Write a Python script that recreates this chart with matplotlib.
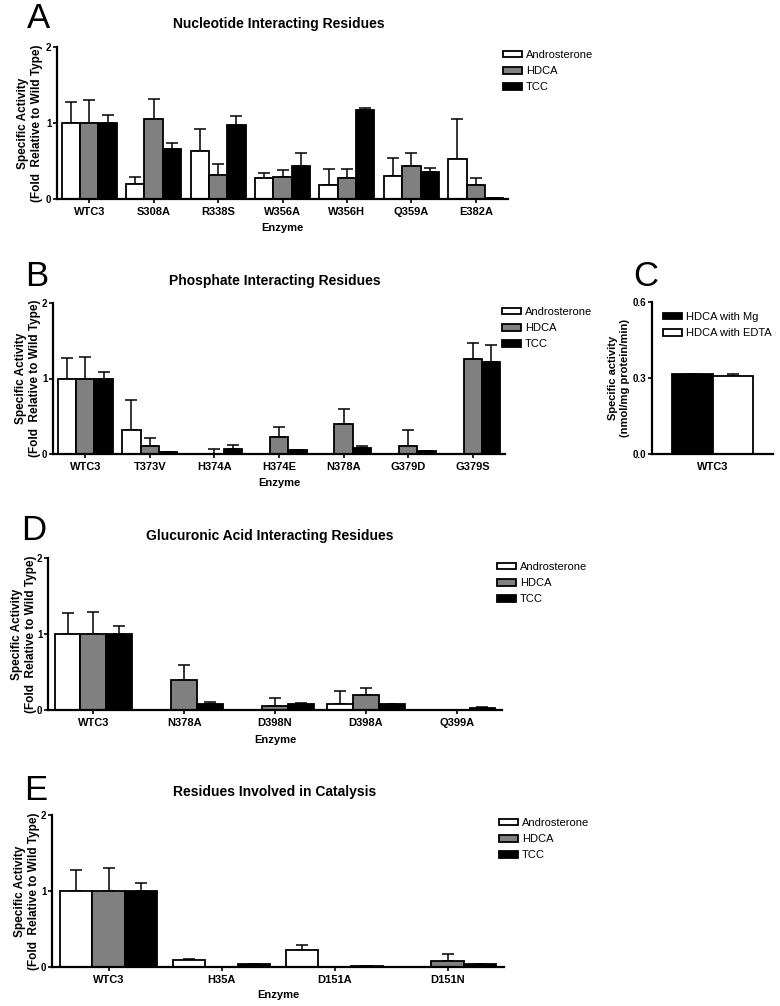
import matplotlib
matplotlib.use("Agg")
import matplotlib.pyplot as plt
import numpy as np
from matplotlib.patches import Patch

plt.rcParams['font.family'] = ['Liberation Sans', 'DejaVu Sans']

# ---------------- data ----------------
series_names = ['Androsterone', 'HDCA', 'TCC']

cats_A = ['WTC3', 'S308A', 'R338S', 'W356A', 'W356H', 'Q359A', 'E382A']
andro_A = [1.00, 0.20, 0.63, 0.28, 0.18, 0.30, 0.53]
andro_A_err = [0.27, 0.09, 0.29, 0.06, 0.21, 0.24, 0.52]
hdca_A = [1.00, 1.05, 0.32, 0.29, 0.27, 0.43, 0.18]
hdca_A_err = [0.30, 0.27, 0.14, 0.09, 0.12, 0.18, 0.10]
tcc_A = [1.00, 0.655, 0.98, 0.44, 1.17, 0.355, 0.01]
tcc_A_err = [0.10, 0.085, 0.11, 0.16, 0.03, 0.055, 0.0]

cats_B = ['WTC3', 'T373V', 'H374A', 'H374E', 'N378A', 'G379D', 'G379S']
andro_B = [1.00, 0.32, 0.0, 0.0, 0.0, 0.0, 0.0]
andro_B_err = [0.27, 0.40, 0.0, 0.0, 0.0, 0.0, 0.0]
hdca_B = [1.00, 0.11, 0.0, 0.22, 0.40, 0.10, 1.26]
hdca_B_err = [0.29, 0.10, 0.066, 0.14, 0.19, 0.22, 0.21]
tcc_B = [1.00, 0.02, 0.07, 0.05, 0.08, 0.035, 1.22]
tcc_B_err = [0.09, 0.0, 0.045, 0.0, 0.025, 0.0, 0.22]

cats_C = ['WTC3']
c_names = ['HDCA with Mg', 'HDCA with EDTA']
c_vals = [0.316, 0.308]
c_err = [0.0, 0.006]

cats_D = ['WTC3', 'N378A', 'D398N', 'D398A', 'Q399A']
andro_D = [1.00, 0.0, 0.0, 0.085, 0.0]
andro_D_err = [0.27, 0.0, 0.0, 0.165, 0.0]
hdca_D = [1.00, 0.40, 0.05, 0.20, 0.0]
hdca_D_err = [0.29, 0.19, 0.105, 0.09, 0.0]
tcc_D = [1.00, 0.08, 0.08, 0.075, 0.03]
tcc_D_err = [0.10, 0.025, 0.01, 0.0, 0.005]

cats_E = ['WTC3', 'H35A', 'D151A', 'D151N']
andro_E = [1.00, 0.095, 0.23, 0.0]
andro_E_err = [0.275, 0.012, 0.06, 0.0]
hdca_E = [1.00, 0.0, 0.0, 0.075]
hdca_E_err = [0.30, 0.0, 0.0, 0.095]
tcc_E = [1.00, 0.04, 0.01, 0.04]
tcc_E_err = [0.10, 0.005, 0.0, 0.005]

colors = ['white', '#808080', 'black']

W, H = 780, 1006
fig = plt.figure(figsize=(W / 100, H / 100), dpi=100)


def ax_px(l, r, t, b):
    return fig.add_axes([l / W, 1 - b / H, (r - l) / W, (b - t) / H])


def style_axes(ax, ylim, yticks, yticklabels):
    ax.set_ylim(*ylim)
    ax.set_yticks(yticks)
    ax.set_yticklabels(yticklabels, fontsize=7, fontweight='bold')
    for s in ['top', 'right']:
        ax.spines[s].set_visible(False)
    for s in ['left', 'bottom']:
        ax.spines[s].set_linewidth(1.6)
    ax.tick_params(axis='y', direction='out', length=3, width=1.2, pad=1)
    ax.tick_params(axis='x', direction='out', length=3, width=1.2, pad=3)


def legend_at(handles, labels, x, y):
    fig.legend(handles, labels, loc='upper left',
               bbox_to_anchor=(x / W, 1 - y / H),
               frameon=False, fontsize=8, handlelength=1.7, handleheight=0.55,
               handletextpad=0.35, labelspacing=0.55, borderpad=0, borderaxespad=0)


def grouped_panel(ax, cats, vals, errs, letter, title, leg_xy, letter_xy, title_xy,
                  ylabel_x, xlabel_y):
    n = len(cats)
    x = np.arange(n)
    bw = 0.285
    for i, (v, e) in enumerate(zip(vals, errs)):
        pos = x + (i - 1) * bw
        ax.errorbar(pos, v, yerr=[np.zeros(n), e], fmt='none', ecolor='black',
                    elinewidth=1.1, capsize=4, capthick=1.1, zorder=1)
        ax.bar(pos, v, width=bw, color=colors[i], edgecolor='black', linewidth=1.3,
               zorder=2, label=series_names[i])
    ax.set_xlim(-0.5, n - 0.5)
    ax.set_xticks(x)
    ax.set_xticklabels(cats, fontsize=8, fontweight='bold')
    style_axes(ax, (0, 2), [0, 1, 2], ['0', '1', '2'])
    handles = [Patch(facecolor=c, edgecolor='black', linewidth=1.3) for c in colors]
    legend_at(handles, series_names, leg_xy[0], leg_xy[1])
    fig.text(letter_xy[0] / W, 1 - letter_xy[1] / H, letter, fontsize=25,
             ha='left', va='center')
    fig.text(title_xy[0] / W, 1 - title_xy[1] / H, title, fontsize=10,
             fontweight='bold', ha='center', va='center')
    fig.text(ylabel_x / W, ax.get_position().y0 + ax.get_position().height / 2,
             'Specific Activity\n(Fold  Relative to Wild Type)', rotation=90,
             fontsize=8.5, fontweight='bold', ha='center', va='center',
             linespacing=1.2)
    fig.text(ax.get_position().x0 + ax.get_position().width / 2, 1 - xlabel_y / H,
             'Enzyme', fontsize=8, fontweight='bold', ha='center', va='center')


# Panel A
axA = ax_px(57, 508, 47, 199)
grouped_panel(axA, cats_A, [andro_A, hdca_A, tcc_A], [andro_A_err, hdca_A_err, tcc_A_err],
              'A', 'Nucleotide Interacting Residues', (503, 50), (27, 18), (279, 24), 30, 228)

# Panel B
axB = ax_px(53, 505, 303, 454)
grouped_panel(axB, cats_B, [andro_B, hdca_B, tcc_B], [andro_B_err, hdca_B_err, tcc_B_err],
              'B', 'Phosphate Interacting Residues', (502, 307), (25, 276), (275, 281), 28, 483)

# Panel D
axD = ax_px(48, 502, 558, 710)
grouped_panel(axD, cats_D, [andro_D, hdca_D, tcc_D], [andro_D_err, hdca_D_err, tcc_D_err],
              'D', 'Glucuronic Acid Interacting Residues', (497, 562), (21, 531), (270, 536), 24, 740)

# Panel E
axE = ax_px(52, 504, 815, 967)
grouped_panel(axE, cats_E, [andro_E, hdca_E, tcc_E], [andro_E_err, hdca_E_err, tcc_E_err],
              'E', 'Residues Involved in Catalysis', (499, 818), (24, 791), (275, 792), 27, 995)

# Panel C
axC = ax_px(652, 773, 302, 454)
cbw = 0.338
c_colors = ['black', 'white']
for i in range(2):
    pos = np.array([0.0]) + (i - 0.5) * cbw
    axC.errorbar(pos, [c_vals[i]], yerr=[[0], [c_err[i]]], fmt='none', ecolor='black',
                 elinewidth=1.1, capsize=4, capthick=1.1, zorder=1)
    axC.bar(pos, [c_vals[i]], width=cbw, color=c_colors[i], edgecolor='black',
            linewidth=1.3, zorder=2)
axC.set_xlim(-0.5, 0.5)
axC.set_xticks([0])
axC.set_xticklabels(cats_C, fontsize=8, fontweight='bold')
style_axes(axC, (0, 0.6), [0, 0.3, 0.6], ['0.0', '0.3', '0.6'])
axC.tick_params(axis='x', length=0, pad=6)
handlesC = [Patch(facecolor=c, edgecolor='black', linewidth=1.3) for c in c_colors]
legend_at(handlesC, c_names, 663, 312)
fig.text(633 / W, 1 - 276 / H, 'C', fontsize=25, ha='left', va='center')
fig.text(619 / W, 1 - 378 / H, 'Specific activity\n(nmol/mg protein/min)', rotation=90,
         fontsize=8, fontweight='bold', ha='center', va='center', linespacing=1.2)

fig.savefig('out.png', dpi=100)
